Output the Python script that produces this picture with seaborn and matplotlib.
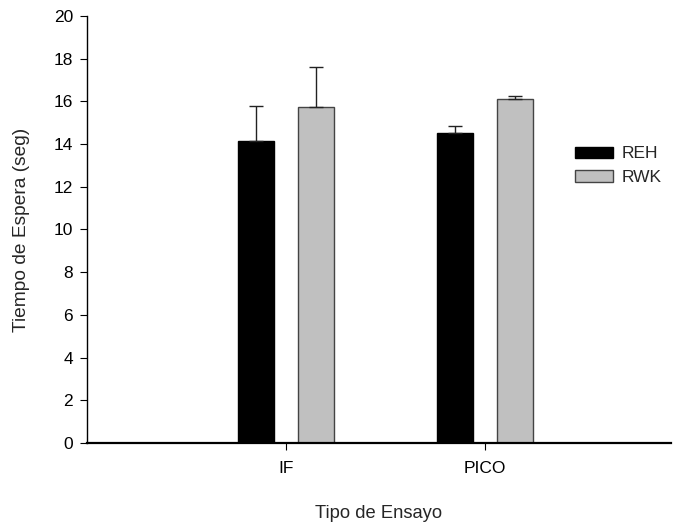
import numpy as np
import pandas as pd
import seaborn as sns
import matplotlib.pyplot as plt
from matplotlib.patches import Patch

# data
ensayos = ['IF', 'PICO']
grupos = ['REH', 'RWK']
media_reh = [14.15, 14.52]
media_rwk = [15.75, 16.1]
err_reh = [1.63, 0.35]
err_rwk = [1.88, 0.17]

df = pd.DataFrame({
    'Ensayo': ensayos * 2,
    'Grupo': ['REH'] * 2 + ['RWK'] * 2,
    'Tiempo': media_reh + media_rwk,
})
errores = {'REH': err_reh, 'RWK': err_rwk}

sns.set_style('white')
plt.rcParams['font.family'] = ['Liberation Sans', 'DejaVu Sans']

fig = plt.figure(figsize=(6.73, 5.24), dpi=100)
ax = fig.add_axes([0.1293, 0.1546, 0.8677, 0.8149])

sns.barplot(data=df, x='Ensayo', y='Tiempo', hue='Grupo', hue_order=grupos,
            palette={'REH': '#000000', 'RWK': '#c0c0c0'},
            width=0.6, gap=0.4, errorbar=None, legend=False, ax=ax)

edges = {'REH': '#000000', 'RWK': '#444444'}
for grupo, cont in zip(grupos, ax.containers):
    for i, bar in enumerate(cont):
        bar.set_edgecolor(edges[grupo])
        bar.set_linewidth(1.0)
        xc = bar.get_x() + bar.get_width() / 2
        ax.errorbar(xc, bar.get_height(), yerr=[[0], [errores[grupo][i]]],
                    fmt='none', ecolor='#222222', elinewidth=1.0,
                    capsize=4.7, capthick=1.0, zorder=1)

ax.set_xlim(-1.0, 1.935)
ax.set_ylim(0, 20)
ax.set_yticks(np.arange(0, 21, 2))

for s in ['top', 'right']:
    ax.spines[s].set_visible(False)
for s in ['left', 'bottom']:
    ax.spines[s].set_color('black')
    ax.spines[s].set_linewidth(1.0)
ax.spines['bottom'].set_linewidth(1.6)

ax.tick_params(axis='both', direction='out', length=5, width=0.8, colors='black',
               labelsize=12.5)
ax.tick_params(axis='x', pad=8, bottom=True)
ax.tick_params(axis='y', pad=5, left=True)

ax.set_xlabel('Tipo de Ensayo', fontsize=13.2, labelpad=21)
ax.set_ylabel('Tiempo de Espera (seg)', fontsize=13.8, labelpad=17)

handles = [Patch(facecolor='#000000', edgecolor='#000000'),
           Patch(facecolor='#c0c0c0', edgecolor='#444444')]
fig.legend(handles, grupos, loc='upper left', bbox_to_anchor=(0.841, 0.737),
           frameon=False, fontsize=12.5, handlelength=2.2, handleheight=0.63,
           labelspacing=0.5, handletextpad=0.5, borderpad=0)

fig.savefig('out.png', dpi=100)
